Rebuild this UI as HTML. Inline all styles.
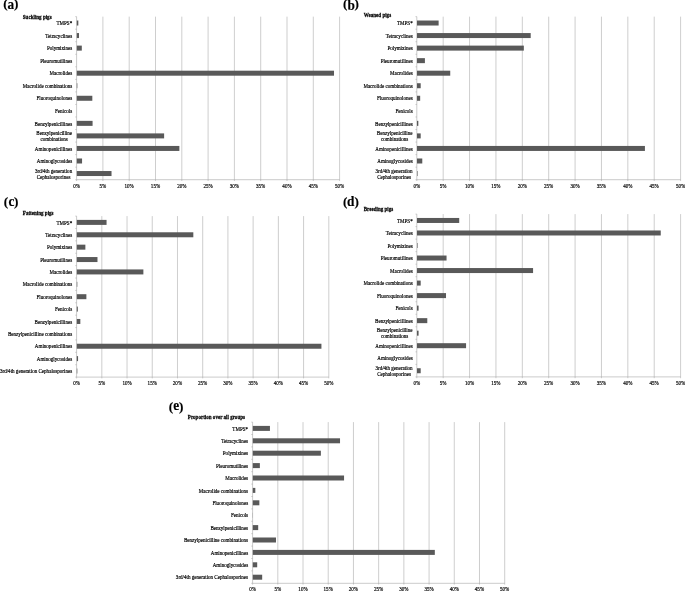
<!DOCTYPE html>
<html lang="en"><head><meta charset="utf-8"><title>Antimicrobial class proportions by pig age group</title>
<style>html,body{margin:0;padding:0;background:#fff}svg{display:block}text{font-family:"Liberation Serif",serif;fill:#000;stroke:#000;stroke-width:.22px}.l{font-size:7.1px;text-anchor:end}.x{font-size:7.1px;text-anchor:middle}.t{font-size:7.1px;font-weight:bold;stroke-width:.25px}.p{font-size:14.8px;font-weight:bold;stroke-width:.15px}.q{font-size:13.2px;text-anchor:middle}.g{stroke:#acacac;stroke-width:.6;fill:none}.a{stroke:#a6a6a6;stroke-width:.6;fill:none}.b{fill:#595959}</style></head><body>
<svg width="685" height="591" viewBox="0 0 685 591">
<rect width="685" height="591" fill="#fff"/>
<g>
<text class="p q" x="5.55" y="8.2">(</text><text class="p" transform="translate(10.95 9.3) scale(.9 1)" text-anchor="middle">a</text><text class="p q" x="16.25" y="8.2">)</text>
<path class="g" d="M102.9 16.65V181M129.2 16.65V181M155.5 16.65V181M181.8 16.65V181M208.1 16.65V181M234.4 16.65V181M260.7 16.65V181M287 16.65V181M313.3 16.65V181M339.6 16.65V181"/>
<path class="a" d="M76.6 16.65V179.7H339.6M76.6 179.7v1.3M76.6 16.65h-1.3M76.6 29.19h-1.3M76.6 41.73h-1.3M76.6 54.28h-1.3M76.6 66.82h-1.3M76.6 79.36h-1.3M76.6 91.9h-1.3M76.6 104.45h-1.3M76.6 116.99h-1.3M76.6 129.53h-1.3M76.6 142.07h-1.3M76.6 154.62h-1.3M76.6 167.16h-1.3M76.6 179.7h-1.3"/>
<rect class="b" x="76.8" y="20.52" width="1.53" height="5"/>
<rect class="b" x="76.8" y="33.06" width="2.21" height="5"/>
<rect class="b" x="76.8" y="45.61" width="5" height="5"/>
<rect class="b" x="76.8" y="70.69" width="257.21" height="5"/>
<rect class="b" x="76.8" y="83.23" width="0.53" height="5"/>
<rect class="b" x="76.8" y="95.77" width="15.52" height="5"/>
<rect class="b" x="76.8" y="120.86" width="15.78" height="5"/>
<rect class="b" x="76.8" y="133.4" width="87.32" height="5"/>
<rect class="b" x="76.8" y="145.94" width="102.57" height="5"/>
<rect class="b" x="76.8" y="158.49" width="5.26" height="5"/>
<rect class="b" x="76.8" y="171.03" width="34.72" height="5"/>
<g transform="scale(0.714 1)">
<text class="t" x="31.93" y="18.7">Suckling pigs</text>
<text class="l" x="101.12" y="25.17">TMPS*</text>
<text class="l" x="101.12" y="37.71">Tetracyclines</text>
<text class="l" x="101.12" y="50.26">Polymixines</text>
<text class="l" x="101.12" y="62.8">Pleuromutilines</text>
<text class="l" x="101.12" y="75.34">Macrolides</text>
<text class="l" x="101.12" y="87.88">Macrolide combinations</text>
<text class="l" x="101.12" y="100.42">Fluoroquinolones</text>
<text class="l" x="101.12" y="112.97">Fenicols</text>
<text class="l" x="101.12" y="125.51">Benzylpenicillines</text>
<text class="x" x="75.91" y="135.1">Benzylpenicilline<tspan x="75.91" dy="5.9">combinations</tspan></text>
<text class="l" x="101.12" y="150.59">Aminopenicillines</text>
<text class="l" x="101.12" y="163.14">Aminoglycosides</text>
<text class="x" x="75" y="172.73">3rd/4th generation<tspan x="75" dy="5.9">Cephalosporines</tspan></text>
<text class="x" x="107.28" y="187.75">0%</text>
<text class="x" x="144.12" y="187.75">5%</text>
<text class="x" x="180.95" y="187.75">10%</text>
<text class="x" x="217.79" y="187.75">15%</text>
<text class="x" x="254.62" y="187.75">20%</text>
<text class="x" x="291.46" y="187.75">25%</text>
<text class="x" x="328.29" y="187.75">30%</text>
<text class="x" x="365.13" y="187.75">35%</text>
<text class="x" x="401.96" y="187.75">40%</text>
<text class="x" x="438.8" y="187.75">45%</text>
<text class="x" x="475.63" y="187.75">50%</text>
</g></g>
<g>
<text class="p q" x="345.25" y="8">(</text><text class="p" transform="translate(351.1 9.8) scale(.9 1)" text-anchor="middle">b</text><text class="p q" x="356.8" y="8">)</text>
<path class="g" d="M443.18 16.65V181M469.56 16.65V181M495.94 16.65V181M522.32 16.65V181M548.7 16.65V181M575.08 16.65V181M601.46 16.65V181M627.84 16.65V181M654.22 16.65V181M680.6 16.65V181"/>
<path class="a" d="M416.8 16.65V179.7H680.6M416.8 179.7v1.3M416.8 16.65h-1.3M416.8 29.19h-1.3M416.8 41.73h-1.3M416.8 54.28h-1.3M416.8 66.82h-1.3M416.8 79.36h-1.3M416.8 91.9h-1.3M416.8 104.45h-1.3M416.8 116.99h-1.3M416.8 129.53h-1.3M416.8 142.07h-1.3M416.8 154.62h-1.3M416.8 167.16h-1.3M416.8 179.7h-1.3"/>
<rect class="b" x="417" y="20.52" width="21.63" height="5"/>
<rect class="b" x="417" y="33.06" width="113.7" height="5"/>
<rect class="b" x="417" y="45.61" width="106.84" height="5"/>
<rect class="b" x="417" y="58.15" width="7.91" height="5"/>
<rect class="b" x="417" y="70.69" width="33.24" height="5"/>
<rect class="b" x="417" y="83.23" width="3.69" height="5"/>
<rect class="b" x="417" y="95.77" width="3.17" height="5"/>
<rect class="b" x="417" y="120.86" width="1.32" height="5"/>
<rect class="b" x="417" y="133.4" width="3.69" height="5"/>
<rect class="b" x="417" y="145.94" width="227.92" height="5"/>
<rect class="b" x="417" y="158.49" width="5.28" height="5"/>
<rect class="b" x="417" y="171.03" width="0.53" height="5"/>
<g transform="scale(0.714 1)">
<text class="t" x="509.38" y="17.5">Weaned pigs</text>
<text class="l" x="578.01" y="25.17">TMPS*</text>
<text class="l" x="578.01" y="37.71">Tetracyclines</text>
<text class="l" x="578.01" y="50.26">Polymixines</text>
<text class="l" x="578.01" y="62.8">Pleuromutilines</text>
<text class="l" x="578.01" y="75.34">Macrolides</text>
<text class="l" x="578.01" y="87.88">Macrolide combinations</text>
<text class="l" x="578.01" y="100.42">Fluoroquinolones</text>
<text class="l" x="578.01" y="112.97">Fenicols</text>
<text class="l" x="578.01" y="125.51">Benzylpenicillines</text>
<text class="x" x="552.8" y="135.1">Benzylpenicilline<tspan x="552.8" dy="5.9">combinations</tspan></text>
<text class="l" x="578.01" y="150.59">Aminopenicillines</text>
<text class="l" x="578.01" y="163.14">Aminoglycosides</text>
<text class="x" x="551.89" y="172.73">3rd/4th generation<tspan x="551.89" dy="5.9">Cephalosporines</tspan></text>
<text class="x" x="583.75" y="187.75">0%</text>
<text class="x" x="620.7" y="187.75">5%</text>
<text class="x" x="657.65" y="187.75">10%</text>
<text class="x" x="694.59" y="187.75">15%</text>
<text class="x" x="731.54" y="187.75">20%</text>
<text class="x" x="768.49" y="187.75">25%</text>
<text class="x" x="805.43" y="187.75">30%</text>
<text class="x" x="842.38" y="187.75">35%</text>
<text class="x" x="879.33" y="187.75">40%</text>
<text class="x" x="916.27" y="187.75">45%</text>
<text class="x" x="953.22" y="187.75">50%</text>
</g></g>
<g>
<text class="p q" x="6" y="206">(</text><text class="p" transform="translate(11.4 206.45) scale(.9 1)" text-anchor="middle">c</text><text class="p q" x="16.25" y="206">)</text>
<path class="g" d="M101.82 216.1V378.4M127.04 216.1V378.4M152.26 216.1V378.4M177.48 216.1V378.4M202.7 216.1V378.4M227.92 216.1V378.4M253.14 216.1V378.4M278.36 216.1V378.4M303.58 216.1V378.4M328.8 216.1V378.4"/>
<path class="a" d="M76.6 216.1V377.1H328.8M76.6 377.1v1.3M76.6 216.1h-1.3M76.6 228.48h-1.3M76.6 240.87h-1.3M76.6 253.25h-1.3M76.6 265.64h-1.3M76.6 278.02h-1.3M76.6 290.41h-1.3M76.6 302.79h-1.3M76.6 315.18h-1.3M76.6 327.56h-1.3M76.6 339.95h-1.3M76.6 352.33h-1.3M76.6 364.72h-1.3M76.6 377.1h-1.3"/>
<rect class="b" x="76.8" y="219.89" width="29.76" height="5"/>
<rect class="b" x="76.8" y="232.28" width="116.52" height="5"/>
<rect class="b" x="76.8" y="244.66" width="8.57" height="5"/>
<rect class="b" x="76.8" y="257.05" width="20.68" height="5"/>
<rect class="b" x="76.8" y="269.43" width="66.58" height="5"/>
<rect class="b" x="76.8" y="281.82" width="0.5" height="5"/>
<rect class="b" x="76.8" y="294.2" width="9.58" height="5"/>
<rect class="b" x="76.8" y="306.58" width="1.01" height="5"/>
<rect class="b" x="76.8" y="318.97" width="3.53" height="5"/>
<rect class="b" x="76.8" y="343.74" width="244.63" height="5"/>
<rect class="b" x="76.8" y="356.12" width="1.26" height="5"/>
<rect class="b" x="76.8" y="368.51" width="0.5" height="5"/>
<g transform="scale(0.714 1)">
<text class="t" x="31.93" y="214.8">Fattening pigs</text>
<text class="l" x="101.12" y="224.54">TMPS*</text>
<text class="l" x="101.12" y="236.93">Tetracyclines</text>
<text class="l" x="101.12" y="249.31">Polymixines</text>
<text class="l" x="101.12" y="261.7">Pleuromutilines</text>
<text class="l" x="101.12" y="274.08">Macrolides</text>
<text class="l" x="101.12" y="286.47">Macrolide combinations</text>
<text class="l" x="101.12" y="298.85">Fluoroquinolones</text>
<text class="l" x="101.12" y="311.23">Fenicols</text>
<text class="l" x="101.12" y="323.62">Benzylpenicillines</text>
<text class="l" x="101.12" y="336">Benzylpenicilline combinations</text>
<text class="l" x="101.12" y="348.39">Aminopenicillines</text>
<text class="l" x="101.12" y="360.77">Aminoglycosides</text>
<text class="l" x="101.12" y="373.16">3rd/4th generation Cephalosporines</text>
<text class="x" x="107.28" y="385.15">0%</text>
<text class="x" x="142.61" y="385.15">5%</text>
<text class="x" x="177.93" y="385.15">10%</text>
<text class="x" x="213.25" y="385.15">15%</text>
<text class="x" x="248.57" y="385.15">20%</text>
<text class="x" x="283.89" y="385.15">25%</text>
<text class="x" x="319.22" y="385.15">30%</text>
<text class="x" x="354.54" y="385.15">35%</text>
<text class="x" x="389.86" y="385.15">40%</text>
<text class="x" x="425.18" y="385.15">45%</text>
<text class="x" x="460.5" y="385.15">50%</text>
</g></g>
<g>
<text class="p q" x="345.1" y="206.15">(</text><text class="p" transform="translate(350.65 206.25) scale(.9 1)" text-anchor="middle">d</text><text class="p q" x="356.8" y="206.15">)</text>
<path class="g" d="M443.18 214.1V378.2M469.56 214.1V378.2M495.94 214.1V378.2M522.32 214.1V378.2M548.7 214.1V378.2M575.08 214.1V378.2M601.46 214.1V378.2M627.84 214.1V378.2M654.22 214.1V378.2M680.6 214.1V378.2"/>
<path class="a" d="M416.8 214.1V376.9H680.6M416.8 376.9v1.3M416.8 214.1h-1.3M416.8 226.62h-1.3M416.8 239.15h-1.3M416.8 251.67h-1.3M416.8 264.19h-1.3M416.8 276.72h-1.3M416.8 289.24h-1.3M416.8 301.76h-1.3M416.8 314.28h-1.3M416.8 326.81h-1.3M416.8 339.33h-1.3M416.8 351.85h-1.3M416.8 364.38h-1.3M416.8 376.9h-1.3"/>
<rect class="b" x="417" y="217.96" width="42.21" height="5"/>
<rect class="b" x="417" y="230.48" width="243.75" height="5"/>
<rect class="b" x="417" y="243.01" width="0.53" height="5"/>
<rect class="b" x="417" y="255.53" width="29.55" height="5"/>
<rect class="b" x="417" y="268.05" width="116.07" height="5"/>
<rect class="b" x="417" y="280.58" width="3.69" height="5"/>
<rect class="b" x="417" y="293.1" width="29.02" height="5"/>
<rect class="b" x="417" y="305.62" width="1.58" height="5"/>
<rect class="b" x="417" y="318.15" width="10.29" height="5"/>
<rect class="b" x="417" y="330.67" width="1.58" height="5"/>
<rect class="b" x="417" y="343.19" width="49.07" height="5"/>
<rect class="b" x="417" y="368.24" width="3.69" height="5"/>
<g transform="scale(0.714 1)">
<text class="t" x="509.38" y="211.4">Breeding pigs</text>
<text class="l" x="578.01" y="222.61">TMPS*</text>
<text class="l" x="578.01" y="235.13">Tetracyclines</text>
<text class="l" x="578.01" y="247.66">Polymixines</text>
<text class="l" x="578.01" y="260.18">Pleuromutilines</text>
<text class="l" x="578.01" y="272.7">Macrolides</text>
<text class="l" x="578.01" y="285.23">Macrolide combinations</text>
<text class="l" x="578.01" y="297.75">Fluoroquinolones</text>
<text class="l" x="578.01" y="310.27">Fenicols</text>
<text class="l" x="578.01" y="322.8">Benzylpenicillines</text>
<text class="x" x="552.8" y="332.37">Benzylpenicilline<tspan x="552.8" dy="5.9">combinations</tspan></text>
<text class="l" x="578.01" y="347.84">Aminopenicillines</text>
<text class="l" x="578.01" y="360.37">Aminoglycosides</text>
<text class="x" x="551.89" y="369.94">3rd/4th generation<tspan x="551.89" dy="5.9">Cephalosporines</tspan></text>
<text class="x" x="583.75" y="384.95">0%</text>
<text class="x" x="620.7" y="384.95">5%</text>
<text class="x" x="657.65" y="384.95">10%</text>
<text class="x" x="694.59" y="384.95">15%</text>
<text class="x" x="731.54" y="384.95">20%</text>
<text class="x" x="768.49" y="384.95">25%</text>
<text class="x" x="805.43" y="384.95">30%</text>
<text class="x" x="842.38" y="384.95">35%</text>
<text class="x" x="879.33" y="384.95">40%</text>
<text class="x" x="916.27" y="384.95">45%</text>
<text class="x" x="953.22" y="384.95">50%</text>
</g></g>
<g>
<text class="p q" x="171" y="410.9">(</text><text class="p" transform="translate(176.1 410.45) scale(.9 1)" text-anchor="middle">e</text><text class="p q" x="181.25" y="410.9">)</text>
<path class="g" d="M277.81 422.1V584.6M303.02 422.1V584.6M328.23 422.1V584.6M353.44 422.1V584.6M378.65 422.1V584.6M403.86 422.1V584.6M429.07 422.1V584.6M454.28 422.1V584.6M479.49 422.1V584.6M504.7 422.1V584.6"/>
<path class="a" d="M252.6 422.1V583.3H504.7M252.6 583.3v1.3M252.6 422.1h-1.3M252.6 434.5h-1.3M252.6 446.9h-1.3M252.6 459.3h-1.3M252.6 471.7h-1.3M252.6 484.1h-1.3M252.6 496.5h-1.3M252.6 508.9h-1.3M252.6 521.3h-1.3M252.6 533.7h-1.3M252.6 546.1h-1.3M252.6 558.5h-1.3M252.6 570.9h-1.3M252.6 583.3h-1.3"/>
<rect class="b" x="252.8" y="425.9" width="17.14" height="5"/>
<rect class="b" x="252.8" y="438.3" width="87.23" height="5"/>
<rect class="b" x="252.8" y="450.7" width="68.07" height="5"/>
<rect class="b" x="252.8" y="463.1" width="7.06" height="5"/>
<rect class="b" x="252.8" y="475.5" width="91.26" height="5"/>
<rect class="b" x="252.8" y="487.9" width="2.52" height="5"/>
<rect class="b" x="252.8" y="500.3" width="6.55" height="5"/>
<rect class="b" x="252.8" y="512.7" width="0.15" height="5"/>
<rect class="b" x="252.8" y="525.1" width="5.39" height="5"/>
<rect class="b" x="252.8" y="537.5" width="23.19" height="5"/>
<rect class="b" x="252.8" y="549.9" width="182.02" height="5"/>
<rect class="b" x="252.8" y="562.3" width="4.39" height="5"/>
<rect class="b" x="252.8" y="574.7" width="9.38" height="5"/>
<g transform="scale(0.714 1)">
<text class="t" x="263.03" y="419.3">Proportion over all groups</text>
<text class="l" x="347.48" y="430.55">TMPS*</text>
<text class="l" x="347.48" y="442.95">Tetracyclines</text>
<text class="l" x="347.48" y="455.35">Polymixines</text>
<text class="l" x="347.48" y="467.75">Pleuromutilines</text>
<text class="l" x="347.48" y="480.15">Macrolides</text>
<text class="l" x="347.48" y="492.55">Macrolide combinations</text>
<text class="l" x="347.48" y="504.95">Fluoroquinolones</text>
<text class="l" x="347.48" y="517.35">Fenicols</text>
<text class="l" x="347.48" y="529.75">Benzylpenicillines</text>
<text class="l" x="347.48" y="542.15">Benzylpenicilline combinations</text>
<text class="l" x="347.48" y="554.55">Aminopenicillines</text>
<text class="l" x="347.48" y="566.95">Aminoglycosides</text>
<text class="l" x="347.48" y="579.35">3rd/4th generation Cephalosporines</text>
<text class="x" x="353.78" y="591.35">0%</text>
<text class="x" x="389.09" y="591.35">5%</text>
<text class="x" x="424.4" y="591.35">10%</text>
<text class="x" x="459.71" y="591.35">15%</text>
<text class="x" x="495.01" y="591.35">20%</text>
<text class="x" x="530.32" y="591.35">25%</text>
<text class="x" x="565.63" y="591.35">30%</text>
<text class="x" x="600.94" y="591.35">35%</text>
<text class="x" x="636.25" y="591.35">40%</text>
<text class="x" x="671.55" y="591.35">45%</text>
<text class="x" x="706.86" y="591.35">50%</text>
</g></g>
</svg></body></html>
